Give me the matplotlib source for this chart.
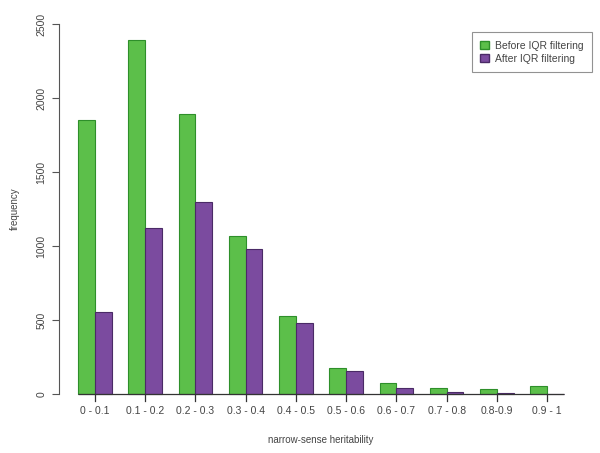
import matplotlib
matplotlib.use("Agg")
import matplotlib.pyplot as plt
import numpy as np
from matplotlib.patches import Patch

plt.rcParams['font.family'] = ['Liberation Sans', 'DejaVu Sans']

categories = ["0 - 0.1", "0.1 - 0.2", "0.2 - 0.3", "0.3 - 0.4", "0.4 - 0.5",
              "0.5 - 0.6", "0.6 - 0.7", "0.7 - 0.8", "0.8-0.9", "0.9 - 1"]
before = [1850, 2390, 1890, 1065, 528, 176, 74, 40, 34, 54]
after = [555, 1120, 1300, 980, 480, 155, 40, 14, 5, 0]
yticks = [0, 500, 1000, 1500, 2000, 2500]

green = "#5cbf4a"
green_edge = "#2e8f2a"
purple = "#7b4b9f"
purple_edge = "#4a2a66"
txt = "#444444"

fig = plt.figure(figsize=(6, 4.53), dpi=100)
ax = fig.add_axes([0.098, 0.0976, 0.874, 0.8821])

n = len(categories)
left_green = 1 + 3 * np.arange(n)
ax.bar(left_green, before, width=1, align="edge", color=green,
       edgecolor=green_edge, linewidth=0.8, label="Before IQR filtering")
ax.bar(left_green + 1, after, width=1, align="edge", color=purple,
       edgecolor=purple_edge, linewidth=0.8, label="After IQR filtering")

ax.set_xlim(-0.16, 31.16)
ax.set_ylim(-100, 2600)

for s in ["top", "right", "bottom"]:
    ax.spines[s].set_visible(False)
ax.spines["left"].set_bounds(0, 2500)
ax.spines["left"].set_color("#555555")
ax.spines["left"].set_linewidth(0.8)

ax.hlines(0, 1, 30, color="#333333", linewidth=0.9)
centers = left_green + 1
for c in centers:
    ax.plot([c, c], [0, -45], color="#333333", linewidth=0.9, clip_on=False)

ax.set_xticks(centers)
ax.set_xticklabels(categories, fontsize=7.5, color=txt)
ax.tick_params(axis="x", length=0, pad=-2)

ax.set_yticks(yticks)
ax.set_yticklabels([str(v) for v in yticks], fontsize=7.5, color=txt,
                   rotation=90, va="center")
ax.tick_params(axis="y", length=5, width=0.8, color="#555555", pad=4)

ax.set_xlabel("narrow-sense heritability", fontsize=7, color=txt, labelpad=14)
ax.set_ylabel("frequency", fontsize=7, color=txt, labelpad=12)

handles = [Patch(facecolor=green, edgecolor=green_edge, label="Before IQR filtering"),
           Patch(facecolor=purple, edgecolor=purple_edge, label="After IQR filtering")]
leg = ax.legend(handles=handles, loc="upper right", bbox_to_anchor=(1.0168, 0.9425),
                fontsize=7.5, frameon=True, fancybox=False, handlelength=0.8,
                handleheight=0.8, handletextpad=0.6, borderpad=0.8,
                labelspacing=0.3, borderaxespad=0)
leg.get_frame().set_edgecolor("#777777")
leg.get_frame().set_linewidth(0.8)
for t in leg.get_texts():
    t.set_color(txt)

fig.savefig("out.png", dpi=100)
